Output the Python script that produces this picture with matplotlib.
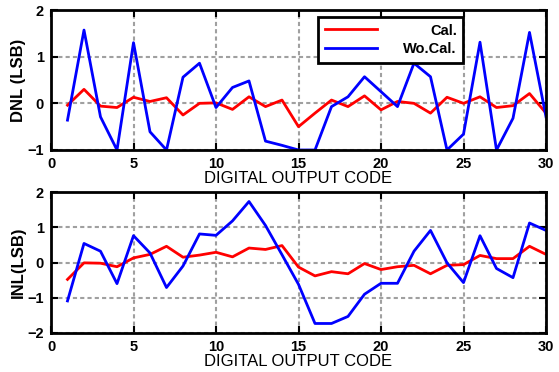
import numpy as np
import matplotlib
matplotlib.use("Agg")
import matplotlib.pyplot as plt

plt.rcParams['font.family'] = ['Liberation Sans', 'DejaVu Sans']

codes = list(range(1, 31))

dnl_cal = [-0.04, 0.30, -0.06, -0.09, 0.13, 0.04, 0.12, -0.25, 0.00, 0.01,
           -0.13, 0.14, -0.07, 0.07, -0.50, -0.21, 0.07, -0.07, 0.16, -0.14,
           0.04, 0.00, -0.21, 0.13, 0.00, 0.14, -0.09, -0.05, 0.21, -0.21]
dnl_wocal = [-0.36, 1.57, -0.29, -1.00, 1.30, -0.61, -1.00, 0.56, 0.86, -0.09,
             0.34, 0.48, -0.81, -0.90, -1.00, -1.00, -0.07, 0.14, 0.57, 0.25,
             -0.07, 0.86, 0.57, -1.00, -0.66, 1.31, -1.00, -0.32, 1.52, -0.29]

inl_cal = [-0.48, -0.01, -0.02, -0.12, 0.13, 0.23, 0.46, 0.15, 0.21, 0.29,
           0.16, 0.41, 0.37, 0.48, -0.13, -0.38, -0.26, -0.32, -0.03, -0.20,
           -0.12, -0.08, -0.32, -0.08, -0.06, 0.20, 0.11, 0.11, 0.46, 0.23]
inl_wocal = [-1.09, 0.54, 0.32, -0.60, 0.76, 0.27, -0.71, -0.10, 0.81, 0.77,
             1.18, 1.73, 1.05, 0.22, -0.62, -1.73, -1.73, -1.53, -0.90, -0.59,
             -0.59, 0.32, 0.91, -0.01, -0.57, 0.76, -0.17, -0.43, 1.12, 0.91]

xticks = [0, 5, 10, 15, 20, 25, 30]
dnl_yticks = [-1, 0, 1, 2]
inl_yticks = [-2, -1, 0, 1, 2]

W, H = 559, 372
fig = plt.figure(figsize=(W / 100, H / 100), dpi=100)

def px_axes(l, r, t, b):
    return fig.add_axes([l / W, 1 - b / H, (r - l) / W, (b - t) / H])

ax1 = px_axes(51, 546, 10, 150)
ax2 = px_axes(51, 546, 192, 333)

def style(ax, yticks, ylabel):
    ax.set_xlim(0, 30)
    ax.set_ylim(yticks[0], yticks[-1])
    ax.set_xticks(xticks)
    ax.set_yticks(yticks)
    ax.grid(True, color='#a0a0a0', linestyle=(0, (2.0, 1.5)), linewidth=1.5)
    ax.set_axisbelow(True)
    for s in ax.spines.values():
        s.set_linewidth(2)
    ax.tick_params(direction='in', length=5, width=1.5, top=True, right=True,
                   labelsize=10.5, pad=5)
    for lab in ax.get_xticklabels() + ax.get_yticklabels():
        lab.set_fontweight('bold')
    ax.set_xlabel('DIGITAL OUTPUT CODE', fontsize=12, labelpad=0)
    ax.set_ylabel(ylabel, fontsize=12, fontweight='bold', labelpad=1)

l1, = ax1.plot(codes, dnl_cal, color='#ff0000', lw=2.0, label='Cal.')
l2, = ax1.plot(codes, dnl_wocal, color='#0000ff', lw=2.0, label='Wo.Cal.')
style(ax1, dnl_yticks, 'DNL (LSB)')

ax2.plot(codes, inl_cal, color='#ff0000', lw=2.0)
ax2.plot(codes, inl_wocal, color='#0000ff', lw=2.0)
style(ax2, inl_yticks, 'INL(LSB)')

leg = ax1.legend(loc='upper left', bbox_to_anchor=((318 - 51) / 495, (150 - 17) / 140),
                 borderaxespad=0, fancybox=False, framealpha=1, edgecolor='black',
                 handlelength=3.6, handletextpad=1.8, borderpad=0.45, labelspacing=0.3,
                 prop={'weight': 'bold', 'size': 10.5})
leg.get_frame().set_linewidth(2)
for h in leg.get_lines():
    h.set_linewidth(2.0)

# right-align legend labels
fig.canvas.draw()
r = fig.canvas.get_renderer()
texts = leg.get_texts()
widths = [t.get_window_extent(r).width for t in texts]
wmax = max(widths)
for t, w in zip(texts, widths):
    t.set_x(wmax - w)

fig.savefig('out.png', dpi=100)
